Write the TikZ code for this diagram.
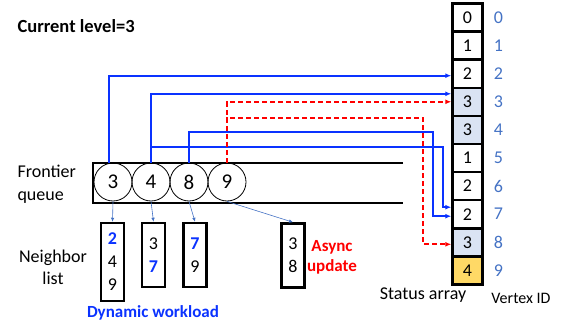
\documentclass[tikz,border=0pt]{standalone}
\usepackage{fontspec}
\setmainfont{Carlito}
\usepackage{tikz}
\usetikzlibrary{shapes, arrows, arrows.meta, calc, positioning}
\definecolor{linkblue}{RGB}{10,50,255}
\definecolor{idblue}{RGB}{68,114,196}
\definecolor{visited}{RGB}{218,227,243}
\definecolor{current}{RGB}{255,217,102}
\tikzstyle{cell} = [rectangle, draw, line width=2.5pt, fill=white,
    minimum width=30pt, minimum height=28.1pt, inner sep=0pt, font=\fontsize{18}{20}\selectfont]
\tikzstyle{vid} = [text=idblue, font=\fontsize{18}{20}\selectfont]
\tikzstyle{frontier} = [circle, draw, line width=0.8pt, minimum size=38pt,
    inner sep=0pt, font=\fontsize{21}{24}\selectfont]
\tikzstyle{nbr} = [rectangle, draw, line width=2.5pt, minimum width=23pt,
    inner sep=2pt, align=center, font=\fontsize{18}{23}\selectfont]
\tikzstyle{txt} = [font=\fontsize{18}{23}\selectfont]
\tikzstyle{note} = [align=center, font=\bfseries\fontsize{17}{20}\selectfont]
\tikzstyle{link} = [draw, linkblue, line width=2pt, -{Latex[length=6pt, width=5pt]}]
\tikzstyle{async} = [draw, red, line width=2pt, dash pattern=on 5pt off 3pt, -{Latex[length=6pt, width=5pt]}]
\tikzstyle{fetch} = [draw, idblue, line width=0.6pt, -{Latex[length=4pt, width=3.5pt]}]

\begin{document}
\begin{tikzpicture}[x=1pt, y=-1pt, node distance=28.1pt]
    \useasboundingbox (0,0) rectangle (567,329);
    % Status array
    \node [cell] (s0) at (467.5,17.5) {0};
    \node [cell, below of=s0] (s1) {1};
    \node [cell, below of=s1] (s2) {2};
    \node [cell, below of=s2, fill=visited] (s3) {3};
    \node [cell, below of=s3, fill=visited] (s4) {3};
    \node [cell, below of=s4] (s5) {1};
    \node [cell, below of=s5] (s6) {2};
    \node [cell, below of=s6] (s7) {2};
    \node [cell, below of=s7, fill=visited] (s8) {3};
    \node [cell, below of=s8, fill=current] (s9) {4};
    \foreach \i in {0,...,9}
        \node [vid, right of=s\i, node distance=31pt] (v\i) {\i};
    \node [txt] (status) at (423,295) {Status array};
    \node [txt, font=\fontsize{16}{20}\selectfont] (vertex) at (521,298) {Vertex ID};

    % Frontier queue
    \draw [line width=2.5pt] (403,163) -- (93,163) -- (93,203) -- (403,203);
    \node [frontier] (q3) at (113,182) {3};
    \node [frontier, right of=q3, node distance=38pt] (q4) {4};
    \node [frontier, right of=q4, node distance=38pt] (q8) {8};
    \node [frontier, right of=q8, node distance=38pt] (q9) {9};
    \node [txt, anchor=west, align=left] (fq) at (14,184.5) {Frontier\\queue};

    % Neighbor lists
    \node [nbr, minimum height=78pt] (n3) at (112.5,262) {\textcolor{linkblue}{\textbf{2}}\\4\\9};
    \node [nbr, minimum height=64pt] (n4) at (153.5,255) {3\\\textcolor{linkblue}{\textbf{7}}};
    \node [nbr, minimum height=64pt] (n8) at (195,255) {\textcolor{linkblue}{\textbf{7}}\\9};
    \node [nbr, minimum height=64pt] (n9) at (293,255.5) {3\\8};
    \node [txt, align=center, font=\fontsize{18}{22}\selectfont] (nl) at (53,267.5) {Neighbor\\list};
    \node [note, text=red] (au) at (332,257) {Async\\update};
    \node [note, text=linkblue] (dw) at (153,313) {Dynamic workload};
    \node [anchor=west, font=\bfseries\fontsize{18.5}{22}\selectfont] (level) at (14,26) {Current level=3};

    % Bends
    \coordinate (abend) at (423,118);
    \coordinate (wbend4) at (443,147);
    \coordinate (wbend8) at (433,132);

    % Edges
    \path [link] ([xshift=-4pt]q3.north) |- ([yshift=-2pt]s2.west);
    \path [link] (q4.north) |- ([yshift=8pt]s3.west);
    \path [link] (q4.north) |- (wbend4) |- ([yshift=7pt]s7.west);
    \path [link] (q8.north) |- (wbend8) |- ([yshift=-2pt]s7.west);
    \path [async] (q9.north) |- (s3.west);
    \path [async] (q9.north) |- (abend) |- ([yshift=-2pt]s8.west);
    \path [fetch] (q3.south) -- (n3.north);
    \path [fetch] (q4.south) -- (n4.north);
    \path [fetch] (q8.south) -- (n8.north);
    \path [fetch] (q9.south) -- (n9.north);
\end{tikzpicture}
\end{document}
